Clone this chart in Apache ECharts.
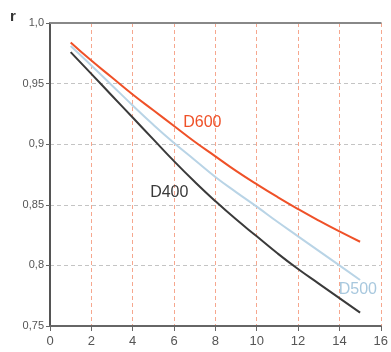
<!DOCTYPE html>
<html><head><meta charset="utf-8">
<script src="https://cdn.jsdelivr.net/npm/echarts@6/dist/echarts.min.js"></script>
<style>html,body{margin:0;padding:0;background:#fff}#c{width:391px;height:352px}</style>
</head><body><div id="c"></div>
<script>
const xValues = [1,2,3,4,5,6,7,8,9,10,11,12,13,14,15];
const d400 = [0.976,0.958,0.940,0.922,0.904,0.886,0.869,0.853,0.838,0.824,0.810,0.797,0.785,0.773,0.761];
const d500 = [0.981,0.965,0.9485,0.932,0.916,0.901,0.887,0.873,0.8605,0.8485,0.836,0.824,0.812,0.800,0.788];
const d600 = [0.984,0.969,0.955,0.941,0.928,0.915,0.902,0.890,0.878,0.867,0.8565,0.8465,0.837,0.828,0.8195];
const seriesNames = ['D400','D500','D600'];
const labelPos = [[5.77,0.8597],[14.89,0.780],[7.37,0.9179]];
const colors = ['#3a3a3a','#b9d4e6','#ef5128'];
const labelColors = ['#3a3a3a','#a8c8de','#ef5128'];
const yTicks = {1:'1,0',0.95:'0,95',0.9:'0,9',0.85:'0,85',0.8:'0,8',0.75:'0,75'};
const allData = [d400,d500,d600];

const chart = echarts.init(document.getElementById('c'), null, {renderer:'canvas'});
const font = 'Liberation Sans, Arial, sans-serif';
chart.setOption({
  animation:false,
  grid:{left:50,right:1,top:23,bottom:26},
  xAxis:[{
    type:'value',min:0,max:16,interval:2,
    axisLine:{lineStyle:{color:'#666',width:2}},
    axisTick:{show:true,length:5,lineStyle:{color:'#666',width:1}},
    axisLabel:{color:'#555',fontSize:13,fontFamily:font,margin:9},
    splitLine:{show:true,lineStyle:{color:'#f6a78e',type:[4,3],width:1}}
  },{
    type:'value',position:'top',min:0,max:16,
    axisLine:{show:true,lineStyle:{color:'#888',width:2}},
    axisTick:{show:false},axisLabel:{show:false},splitLine:{show:false}
  }],
  yAxis:{
    type:'value',min:0.75,max:1.0,interval:0.05,
    axisLine:{show:true,lineStyle:{color:'#555',width:2}},
    axisTick:{show:true,length:4,lineStyle:{color:'#666'}},
    axisLabel:{color:'#555',fontSize:11,fontFamily:font,margin:6,
      formatter:v=>yTicks[Math.round(v*100)/100]||''},
    splitLine:{show:true,lineStyle:{color:'#c4c4c4',type:[4,3],width:1}}
  },
  graphic:[{type:'text',left:10,top:9,style:{text:'r',fontSize:15,fontWeight:'bold',fill:'#333',fontFamily:font}}],
  series: seriesNames.map((n,i)=>({
    name:n,type:'line',smooth:true,showSymbol:false,
    data:xValues.map((x,k)=>[x,allData[i][k]]),
    lineStyle:{color:colors[i],width:2},
    markPoint:{symbol:'circle',symbolSize:0,
      data:[{coord:labelPos[i],value:n}],
      label:{show:true,formatter:n,color:labelColors[i],fontSize:16,fontFamily:font,position:'inside'}}
  }))
});
</script></body></html>
